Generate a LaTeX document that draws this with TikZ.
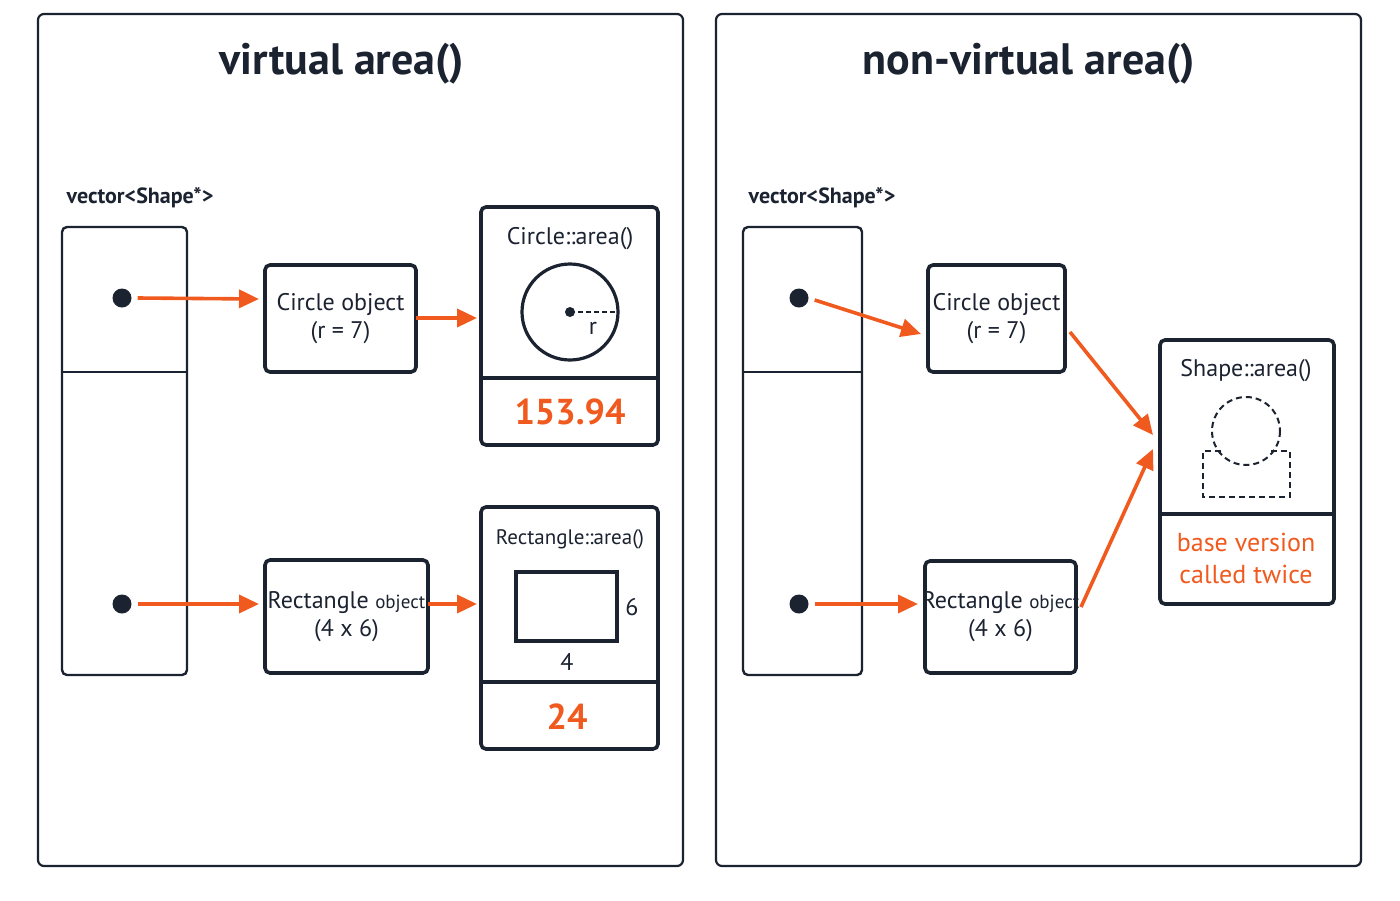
\documentclass[tikz,border=0pt]{standalone}
\usepackage{fontspec}
\setmainfont{PT Sans}
\usetikzlibrary{arrows.meta}
\definecolor{org}{HTML}{F05A1E}
\definecolor{ink}{HTML}{1B2230}
\begin{document}
\begin{tikzpicture}[x=1pt,y=-1pt,
  panel/.style={draw=ink,line width=2.2pt,rounded corners=6pt},
  box/.style={draw=ink,line width=3.6pt,rounded corners=5pt},
  arr/.style={draw=org,line width=3.6pt,-{Triangle[length=20pt,width=18pt]}},
  lbl/.style={font=\fontsize{24}{28}\selectfont,text=ink,align=center},
  ttl/.style={font=\fontsize{44}{50}\selectfont\bfseries,text=ink},
  dot/.style={circle,fill=ink,inner sep=0pt,minimum size=19pt},
  res/.style={font=\fontsize{36}{40}\selectfont\bfseries,text=org}]
\useasboundingbox (0,0) rectangle (1400,900);
\fill[white] (0,0) rectangle (1400,900);
% panels
\draw[panel] (38,14) rectangle (683,866);
\draw[panel] (716,14) rectangle (1361,866);
\node[ttl] (t1) at (342,64) {virtual area()};
\node[ttl] (t2) at (1029,64) {non-virtual area()};
% left
\node[lbl,font=\fontsize{22}{26}\selectfont\bfseries] (v1) at (140,198) {vector<Shape*>};
\draw[box,line width=2.4pt] (62,227) rectangle (187,675);
\draw[ink,line width=2.4pt] (62,372) -- (187,372);
\node[dot] (d1) at (122,298) {};
\node[dot] (d2) at (122,604) {};
\draw[box] (265,265) rectangle (416,372);
\node[lbl] (co1) at (340.5,318.5) {Circle object\\(r = 7)};
\coordinate (co1l) at (265,299); \coordinate (co1r) at (416,318);
\draw[box] (265,560) rectangle (428,673);
\node[lbl] (ro1) at (346.5,616.5) {Rectangle {\fontsize{19}{22}\selectfont object}\\(4 x 6)};
\coordinate (ro1l) at (265,604); \coordinate (ro1r) at (428,604);
\draw[box] (481,207) rectangle (658,445);
\draw[ink,line width=3.6pt] (481,378) -- (658,378);
\node[lbl] (ca) at (570,239) {Circle::area()};
\draw[ink,line width=3.2pt] (570,312) circle (48);
\fill[ink] (570,312) circle (5);
\draw[ink,line width=2pt,dash pattern=on 5pt off 3pt] (570,312) -- (618,312);
\node[lbl] (rr) at (593,328) {r};
\node[res] (r1) at (570,412) {153.94};
\coordinate (cal) at (481,318);
\draw[box] (481,507) rectangle (658,749);
\draw[ink,line width=3.6pt] (481,682) -- (658,682);
\node[lbl,font=\fontsize{21}{24}\selectfont] (ra) at (570,539) {Rectangle::area()};
\draw[ink,line width=3.2pt] (516,572) rectangle (617,641);
\node[lbl] (six) at (632,607) {6};
\node[lbl] (four) at (567,662) {4};
\node[res] (r2) at (567,717) {24};
\coordinate (ral) at (481,604);
\draw[arr] (d1.east) ++(6,0) -- ([xshift=-6pt]co1l);
\draw[arr] (co1r) -- ([xshift=-4pt]cal);
\draw[arr] (d2.east) ++(6,0) -- ([xshift=-6pt]ro1l);
\draw[arr] (ro1r) -- ([xshift=-4pt]ral);
% right
\node[lbl,font=\fontsize{22}{26}\selectfont\bfseries] (v2) at (822,198) {vector<Shape*>};
\draw[box,line width=2.4pt] (743,227) rectangle (862,675);
\draw[ink,line width=2.4pt] (743,372) -- (862,372);
\node[dot] (d3) at (799,298) {};
\node[dot] (d4) at (799,604) {};
\draw[box] (928,265) rectangle (1065,372);
\node[lbl] (co2) at (996.5,318.5) {Circle object\\(r = 7)};
\draw[box] (925,561) rectangle (1076,673);
\node[lbl] (ro2) at (1000.5,617) {Rectangle {\fontsize{19}{22}\selectfont object}\\(4 x 6)};
\draw[box] (1160,340) rectangle (1334,604);
\draw[ink,line width=3.6pt] (1160,514) -- (1334,514);
\node[lbl] (sa) at (1246,371) {Shape::area()};
\draw[ink,line width=2pt,dash pattern=on 6pt off 4pt] (1246,431) circle (34);
\draw[ink,line width=2pt,dash pattern=on 6pt off 4pt] (1221,451) -- (1203,451) -- (1203,497) -- (1290,497) -- (1290,451) -- (1271,451);
\node[lbl,text=org,font=\fontsize{26}{32}\selectfont] (bv) at (1246,558) {base version\\called twice};
\coordinate (p1) at (921,334); \coordinate (p2) at (918,604);
\coordinate (p3) at (1070,332); \coordinate (p4) at (1153,435);
\coordinate (p5) at (1081,607); \coordinate (p6) at (1153,449);
\draw[arr] (d3.east) ++(6,2) -- (p1);
\draw[arr] (d4.east) ++(6,0) -- (p2);
\draw[arr] (p3) -- (p4);
\draw[arr] (p5) -- (p6);
\end{tikzpicture}
\end{document}
